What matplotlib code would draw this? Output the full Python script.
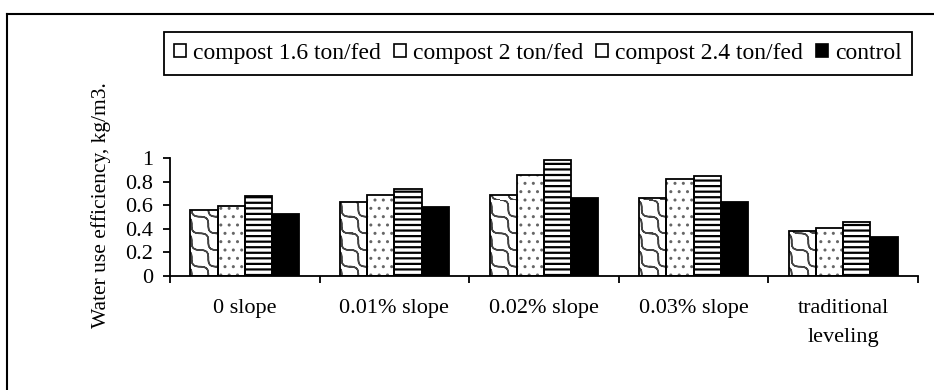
import matplotlib
matplotlib.use('Agg')
import matplotlib.pyplot as plt
import numpy as np
from matplotlib import hatch as mhatch
from matplotlib.path import Path
from matplotlib.patches import Patch
from matplotlib.lines import Line2D

categories = ['0 slope', '0.01% slope', '0.02% slope', '0.03% slope', 'traditional\nleveling']
series_names = ['compost 1.6 ton/fed', 'compost 2 ton/fed', 'compost 2.4 ton/fed', 'control']
compost_1_6 = [0.56, 0.632, 0.685, 0.665, 0.38]
compost_2 = [0.595, 0.685, 0.855, 0.82, 0.41]
compost_2_4 = [0.682, 0.735, 0.985, 0.852, 0.46]
control = [0.53, 0.585, 0.665, 0.632, 0.33]
yticks = [0, 0.2, 0.4, 0.6, 0.8, 1]
ytick_labels = ['0', '0.2', '0.4', '0.6', '0.8', '1']


# custom wavy (S-curve) hatch registered on the 'o' character
class WaveHatch(mhatch.HatchPatternBase):
    def __init__(self, hatch, density):
        self.n = int(hatch.count('o') * 6)
        self.num_vertices = self.n * self.n * 7

    def set_vertices_and_codes(self, vertices, codes):
        s = 1.0 / self.n
        k = 0
        for i in range(self.n):
            for j in range(self.n):
                x0, y0 = i * s, j * s
                p0 = (x0, y0 + s)
                c1 = (x0 + 1.0 * s, y0 + 1.0 * s)
                c2 = (x0 + 0.0 * s, y0)
                p3 = (x0 + s, y0)
                pts = [p0, c1, c2, p3, c2, c1, p0]
                vertices[k:k + 7] = pts
                codes[k:k + 7] = [Path.MOVETO, Path.CURVE4, Path.CURVE4, Path.CURVE4,
                                  Path.CURVE4, Path.CURVE4, Path.CURVE4]
                k += 7


mhatch._hatch_types = [WaveHatch if h is mhatch.SmallCircles else h
                       for h in mhatch._hatch_types]

plt.rcParams['font.family'] = ['Liberation Serif', 'DejaVu Serif']

W, H = 934, 390
fig = plt.figure(figsize=(W / 100, H / 100), dpi=100)
ax = fig.add_axes([170 / W, 1 - 276 / H, 748 / W, 117.7 / H])

x = np.arange(len(categories))
bw = 1 / 5.5
series = [compost_1_6, compost_2, compost_2_4, control]
hatches = ['o', '..', '---', None]
hatch_cols = ['#444444', '#666666', 'black', 'black']
hatch_lws = [1.1, 1.0, 1.6, 1.0]
faces = ['white', 'white', 'white', 'black']

for i, vals in enumerate(series):
    pos = x + (i - 1.5) * bw
    if hatches[i]:
        plt.rcParams['hatch.linewidth'] = hatch_lws[i]
        ax.bar(pos, vals, bw, facecolor='white', edgecolor=hatch_cols[i],
               hatch=hatches[i], linewidth=0, zorder=2)
    ax.bar(pos, vals, bw, facecolor='none' if hatches[i] else faces[i],
           edgecolor='black', linewidth=1.3, zorder=3)

ax.set_xlim(-0.5, 4.5)
ax.set_ylim(0, 1)
for sp in ['top', 'right']:
    ax.spines[sp].set_visible(False)
ax.spines['left'].set_linewidth(1.3)
ax.spines['bottom'].set_linewidth(1.3)

ax.set_yticks(yticks)
ax.set_yticklabels(ytick_labels, fontsize=16)
ax.tick_params(axis='y', direction='out', length=5, width=1.3, pad=7)

ax.set_xticks(np.arange(-0.5, 5, 1))
ax.set_xticklabels([])
ax.tick_params(axis='x', which='major', direction='out', length=5, width=1.3)
ax.set_xticks(x, minor=True)
ax.set_xticklabels(categories, minor=True, fontsize=16, linespacing=1.7)
ax.tick_params(axis='x', which='minor', length=0, pad=16.5)

fig.text(101 / W, 1 - 205 / H, 'Water use efficiency, kg/m3.', rotation=90,
         ha='center', va='center', fontsize=15.5)

handles = [Patch(facecolor='white', edgecolor='black', linewidth=1.2),
           Patch(facecolor='white', edgecolor='black', linewidth=1.2),
           Patch(facecolor='white', edgecolor='black', linewidth=1.2),
           Patch(facecolor='black', edgecolor='black', linewidth=1.2)]
leg = fig.legend(handles, series_names, loc='center',
                 bbox_to_anchor=(538 / W, 1 - 53.5 / H), ncol=4, fontsize=17,
                 frameon=True, fancybox=False, framealpha=1, edgecolor='black',
                 handlelength=0.5, handleheight=0.5, handletextpad=0.3,
                 columnspacing=0.55, borderpad=0.45, borderaxespad=0)
leg.get_frame().set_linewidth(1.3)

# outer border (left and top edges)
fig.add_artist(Line2D([7 / W, 7 / W], [0, 1 - 14 / H], transform=fig.transFigure,
                      color='black', linewidth=1.5))
fig.add_artist(Line2D([7 / W, 1], [1 - 14 / H, 1 - 14 / H], transform=fig.transFigure,
                      color='black', linewidth=1.5))

fig.savefig('out.png', dpi=100)
